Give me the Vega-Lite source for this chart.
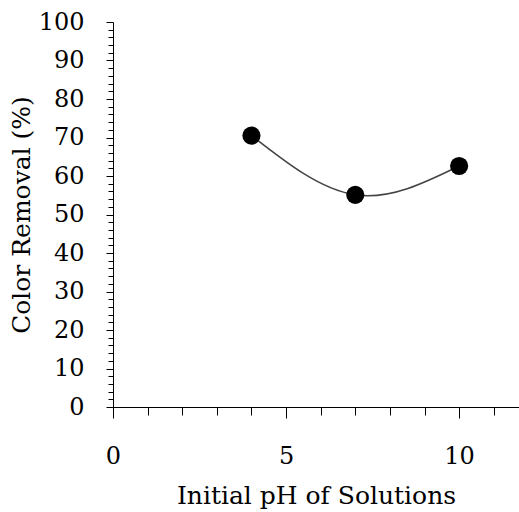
{
  "$schema": "https://vega.github.io/schema/vega-lite/v6.json",
  "width": 406,
  "height": 385,
  "autosize": {"type": "none"},
  "padding": {"left": 113, "top": 22, "right": 0, "bottom": 105},
  "background": "white",
  "config": {
    "view": {"stroke": null},
    "axis": {"labelFont": "DejaVu Serif", "titleFont": "DejaVu Serif", "labelColor": "black", "titleColor": "black", "domainColor": "black", "tickColor": "black", "titleFontWeight": "normal", "grid": false}
  },
  "data": {"values": [
    {"ph": 4, "removal": 70.5},
    {"ph": 7, "removal": 55.1},
    {"ph": 10, "removal": 62.6}
  ]},
  "encoding": {
    "x": {"field": "ph", "type": "quantitative", "scale": {"domain": [0, 11.73], "nice": false, "zero": false},
      "axis": {"title": "Initial pH of Solutions", "values": [0,1,2,3,4,5,6,7,8,9,10,11],
        "labelExpr": "datum.value % 5 == 0 ? datum.label : ''",
        "tickSize": {"condition": {"test": "datum.value % 5 == 0", "value": 11}, "value": 8},
        "labelFontSize": 24, "labelPadding": 26, "titleFontSize": 25, "titlePadding": 15, "labelFlush": false}},
    "y": {"field": "removal", "type": "quantitative", "scale": {"domain": [0, 100], "nice": false},
      "axis": {"title": "Color Removal (%)", "values": [0,2,4,6,8,10,12,14,16,18,20,22,24,26,28,30,32,34,36,38,40,42,44,46,48,50,52,54,56,58,60,62,64,66,68,70,72,74,76,78,80,82,84,86,88,90,92,94,96,98,100],
        "labelExpr": "datum.value % 10 == 0 ? datum.label : ''",
        "tickSize": {"condition": {"test": "datum.value % 10 == 0", "value": 7}, "value": 5},
        "labelFontSize": 24, "labelPadding": 22, "titleFontSize": 25, "titlePadding": 4, "labelFlush": false}}
  },
  "layer": [
    {"mark": {"type": "line", "interpolate": "natural", "color": "#444444", "strokeWidth": 1.5}},
    {"mark": {"type": "point", "filled": true, "color": "black", "opacity": 1, "size": 330}}
  ]
}
